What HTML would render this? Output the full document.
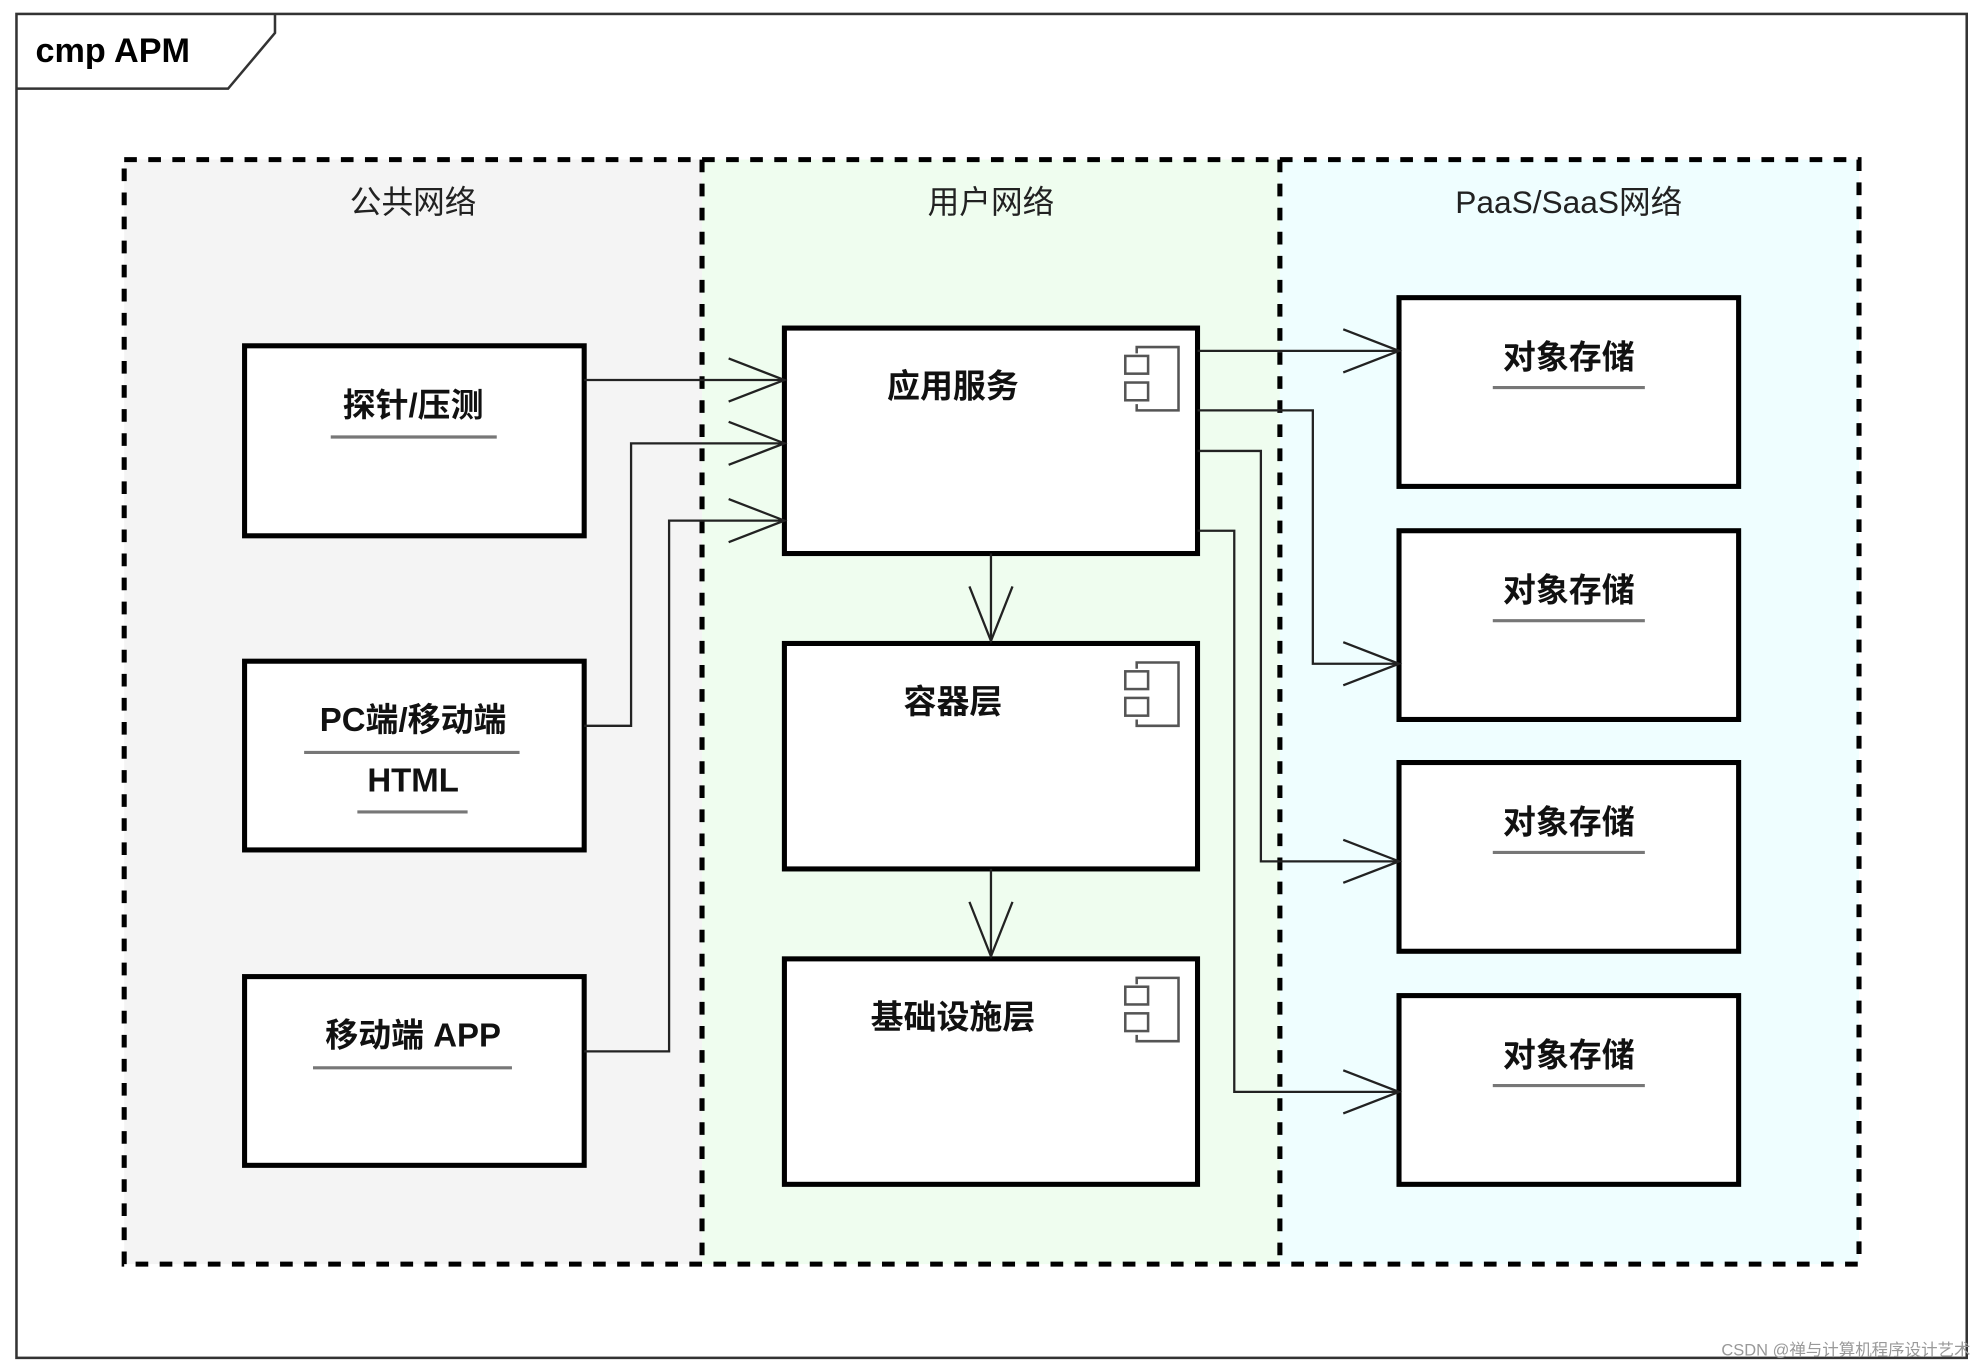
<!DOCTYPE html>
<html><head><meta charset="utf-8"><style>html,body{margin:0;padding:0;background:#fff}svg{display:block}text{font-family:"Liberation Sans","Noto Sans CJK SC",sans-serif}</style></head><body>
<svg width="1987" height="1368" viewBox="0 0 1568 1080" preserveAspectRatio="none" xmlns="http://www.w3.org/2000/svg">
<rect x="13" y="11" width="1539" height="1061" fill="#fff" stroke="#333" stroke-width="2"/>
<path d="M13 70 H180 L217 26 V11" fill="none" stroke="#333" stroke-width="2"/>
<text x="28" y="49" font-size="27" font-weight="bold" fill="#000">cmp APM</text>
<rect x="98" y="126" width="456" height="872" fill="#f4f4f4"/>
<rect x="554" y="126" width="456" height="872" fill="#effdef"/>
<rect x="1010" y="126" width="457" height="872" fill="#effeff"/>
<g fill="none" stroke="#000" stroke-width="4" stroke-dasharray="10 9">
<rect x="98" y="126" width="1369" height="872"/>
<line x1="554" y1="126" x2="554" y2="998"/>
<line x1="1010" y1="126" x2="1010" y2="998"/>
</g>
<g font-size="25" fill="#222" text-anchor="middle">
<text x="326" y="168">公共网络</text>
<text x="782" y="168">用户网络</text>
<text x="1238" y="168">PaaS/SaaS网络</text>
</g>
<g fill="#fff" stroke="#000" stroke-width="4">
<rect x="193" y="273" width="268" height="150"/>
<rect x="193" y="522" width="268" height="149"/>
<rect x="193" y="771" width="268" height="149"/>
<rect x="619" y="259" width="326" height="178"/>
<rect x="619" y="508" width="326" height="178"/>
<rect x="619" y="757" width="326" height="178"/>
<rect x="1104" y="235" width="268" height="149"/>
<rect x="1104" y="419" width="268" height="149"/>
<rect x="1104" y="602" width="268" height="149"/>
<rect x="1104" y="786" width="268" height="149"/>
</g>
<g font-size="26" font-weight="bold" fill="#111" text-anchor="middle">
<text x="326" y="329">探针/压测</text>
<text x="326" y="577">PC端/移动端</text>
<text x="326" y="625">HTML</text>
<text x="326" y="826">移动端 APP</text>
<text x="752" y="314">应用服务</text>
<text x="752" y="563">容器层</text>
<text x="752" y="812">基础设施层</text>
<text x="1238" y="291">对象存储</text>
<text x="1238" y="475">对象存储</text>
<text x="1238" y="658">对象存储</text>
<text x="1238" y="842">对象存储</text>
</g>
<g stroke="#777" stroke-width="2.5">
<line x1="261" y1="345" x2="392" y2="345"/>
<line x1="240" y1="594" x2="410" y2="594"/>
<line x1="282" y1="641" x2="369" y2="641"/>
<line x1="247" y1="843" x2="404" y2="843"/>
<line x1="1178" y1="306" x2="1298" y2="306"/>
<line x1="1178" y1="490" x2="1298" y2="490"/>
<line x1="1178" y1="673" x2="1298" y2="673"/>
<line x1="1178" y1="857" x2="1298" y2="857"/>
</g>
<g fill="none" stroke="#222" stroke-width="1.8">
<polyline points="461,300 619,300"/>
<polyline points="461,573 498,573 498,350 619,350"/>
<polyline points="461,830 528,830 528,411 619,411"/>
<polyline points="575,283 619,300 575,317"/>
<polyline points="575,333 619,350 575,367"/>
<polyline points="575,394 619,411 575,428"/>
<polyline points="945,277 1104,277"/>
<polyline points="945,324 1036,324 1036,524 1104,524"/>
<polyline points="945,356 995,356 995,680 1104,680"/>
<polyline points="945,419 974,419 974,862 1104,862"/>
<polyline points="1060,260 1104,277 1060,294"/>
<polyline points="1060,507 1104,524 1060,541"/>
<polyline points="1060,663 1104,680 1060,697"/>
<polyline points="1060,845 1104,862 1060,879"/>
<line x1="782" y1="437" x2="782" y2="506"/>
<line x1="782" y1="686" x2="782" y2="755"/>
<polyline points="765,463 782,506 799,463"/>
<polyline points="765,712 782,755 799,712"/>
</g>
<g fill="#fff" stroke="#555" stroke-width="2">
<g transform="translate(888,274)"><polyline points="9,5 9,0 42,0 42,50 9,50 9,45" fill="none"/><rect x="0" y="7" width="18" height="14"/><rect x="0" y="28" width="18" height="14"/></g>
<g transform="translate(888,523)"><polyline points="9,5 9,0 42,0 42,50 9,50 9,45" fill="none"/><rect x="0" y="7" width="18" height="14"/><rect x="0" y="28" width="18" height="14"/></g>
<g transform="translate(888,772)"><polyline points="9,5 9,0 42,0 42,50 9,50 9,45" fill="none"/><rect x="0" y="7" width="18" height="14"/><rect x="0" y="28" width="18" height="14"/></g>
</g>
<text x="1555" y="1070" font-size="13" fill="#999" text-anchor="end">CSDN @禅与计算机程序设计艺术</text>
</svg>
</body></html>
